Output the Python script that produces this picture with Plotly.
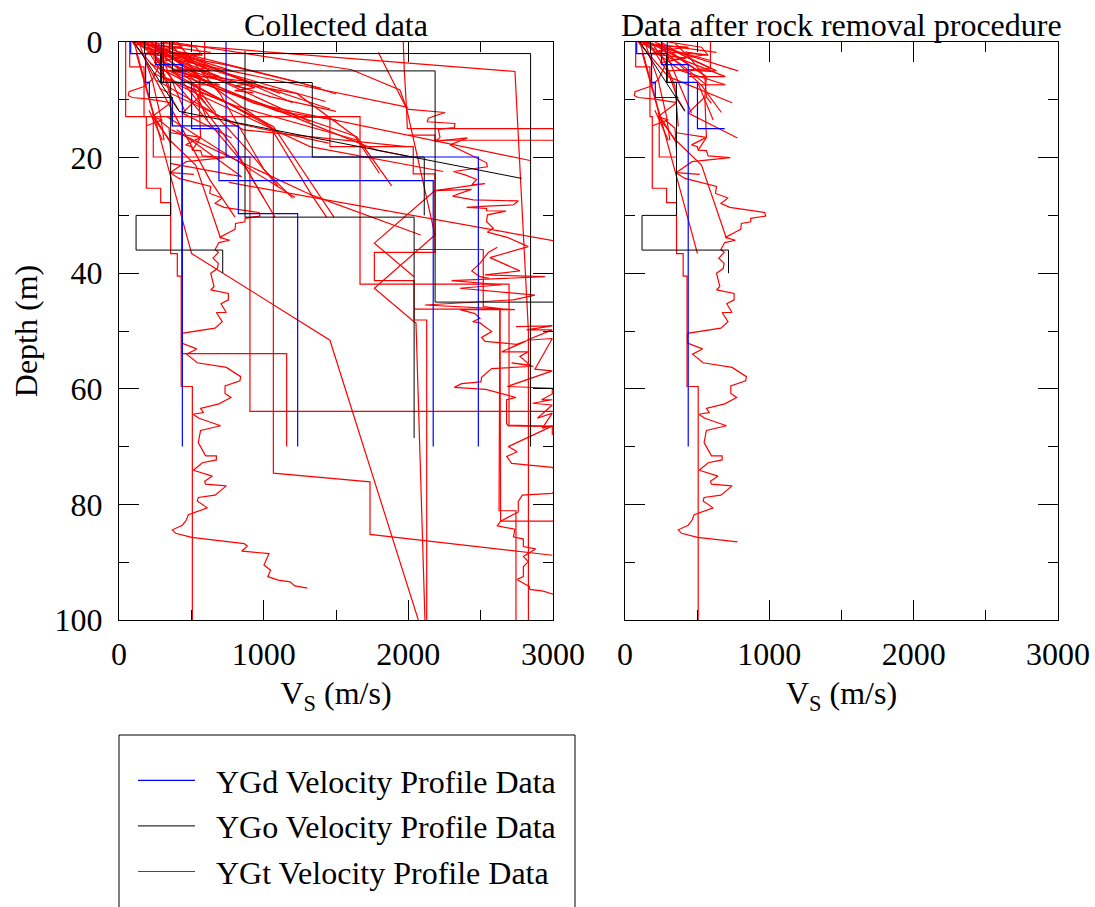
import plotly.graph_objects as go

# ---------- YGd (blue) ----------
gd1_vs = [81, 81, 184, 184, 210, 210, 369, 369, 825, 825, 1235, 1235]
gd1_depth = [0, 2, 2, 7, 7, 9.6, 9.6, 14.5, 14.5, 29.7, 29.7, 70]
gd2_vs = [253, 253, 438, 438]
gd2_depth = [0, 3.9, 3.9, 70]
gd3_vs = [293, 293, 502, 502, 691, 691, 2172, 2172]
gd3_depth = [0, 7, 7, 15, 15, 24, 24, 70]
gd4_vs = [740, 740, 2484, 2484]
gd4_depth = [0, 19.9, 19.9, 70]

# ---------- YGo (black) ----------
go1_vs = [370, 370, 2185, 2185, 3050]
go1_depth = [0, 5, 5, 45, 45]
go2_vs = [350, 350, 2845, 2845]
go2_depth = [0, 2, 2, 70]
go3_vs = [306, 306, 1336, 1336, 2110, 2110]
go3_depth = [0, 7, 7, 19.9, 19.9, 30]
go4_vs = [871, 871, 2040, 2040]
go4_depth = [1.5, 30.3, 30.3, 68.5]
go5_vs = [177, 177, 288, 288, 357, 357, 118, 118, 717, 717]
go5_depth = [0, 2, 2, 7, 7, 30, 30, 36, 36, 40]
go6_vs = [104, 415, 2783]
go6_depth = [0, 12, 23.6]

# ---------- YGt (red), long bumpy profiles ----------
gt_a_vs = [357, 564, 461, 502, 507, 564, 576, 730, 465, 419, 353, 415, 576, 634, 627, 714, 664, 726, 968, 975, 871,
           871, 806, 802, 772, 696, 765, 691, 664, 687, 650, 687, 680, 634, 657, 634, 756, 756, 705, 742, 673, 714,
           664, 433, 433, 537, 468, 541, 742, 841, 836, 733, 733, 774, 691, 564, 583, 511, 553, 703, 564, 548, 599,
           673, 673, 576, 514, 645, 592, 599, 742, 664, 548, 541, 611, 479, 465, 438, 369, 392, 502, 779,
           866, 887, 848, 1037, 1002, 1048, 1028, 1101, 1182, 1216, 1302]
gt_a_depth = [15.7, 16.5, 17.8, 18.1, 18.7, 18.8, 19.7, 20.0, 20.7, 21.5, 22.6, 23.6, 24.6, 25.0, 26.2, 27.0, 27.9,
              28.6, 29.5, 30.1, 30.5, 31.1, 31.4, 32.4, 32.8, 33.8, 34.3, 34.7, 35.9, 36.4, 37.4, 38.3, 39.2, 40.0,
              42.3, 42.9, 43.5, 44.6, 45.3, 46.8, 46.8, 48.4, 49.5, 50.4, 52.1, 53.1, 54.0, 55.5, 56.3, 57.9, 58.6,
              59.5, 60.8, 61.5, 62.6, 63.4, 64.1, 64.4, 65.1, 66.4, 67.2, 69.3, 71.6, 71.6, 72.3, 72.8, 74.1, 75.1,
              76.0, 76.5, 76.8, 78.4, 78.8, 79.4, 80.6, 81.8, 82.7, 83.6, 84.4, 85.0, 85.7, 86.5,
              86.8, 87.2, 88.1, 88.5, 90.5, 91.4, 92.5, 93.1, 93.4, 94.1, 94.5]

gt_b_vs = [1988, 2253, 2138, 2131, 2322, 2318, 2207, 2219, 2184, 2408, 2288, 2408, 2541, 2546, 2438, 2311, 2392, 2472,
           2438, 2530, 2184, 2437, 2306, 2449, 2760, 2725, 2541, 2403, 2541, 2541, 2675, 2546, 2541, 2587, 2546, 2684,
           2829, 2564, 2771, 2530, 2944, 2299, 2645, 2357, 2875, 2725, 2115, 2737, 2357, 2460, 2495, 2444, 2495, 2576,
           2506, 2530, 2748, 2817, 2645, 2829, 2771, 2841, 2714, 2864, 2576, 2506, 2502, 2368, 2318, 2536, 2744, 2679,
           2679, 2691, 2990, 2691, 2753, 2680, 2714, 2995, 3100, 2995, 2788, 2760, 2760, 2638, 2615, 2737, 2726, 2795,
           2795, 2880, 2795, 2829, 2795, 2795, 2749, 2836, 2841, 2933, 2995, 3100]
gt_b_depth = [11.6, 12.2, 13.2, 13.8, 14.1, 14.8, 15.1, 16.5, 17.2, 16.6, 17.8, 19.3, 20.9, 21.6, 22.0, 22.4, 23.0, 23.8,
              24.7, 24.5, 25.7, 25.5, 26.65, 27.3, 27.5, 28.2, 28.4, 28.6, 28.8, 29.2, 29.25, 29.9, 31.1, 32.2, 32.9, 33.8,
              35.4, 37.3, 39.6, 40.3, 40.6, 41.3, 42.0, 42.6, 43.8, 44.6, 45.5, 46.3, 46.3, 47.0, 47.8, 48.4, 48.6, 50.1,
              51.1, 51.8, 52.3, 51.7, 53.6, 53.6, 54.4, 55.9, 55.5, 56.1, 56.5, 58.0, 58.8, 59.1, 59.75, 60.1, 61.5, 61.9,
              66.0, 66.4, 66.5, 70.0, 70.9, 71.7, 72.9, 73.6, 75.5, 78.1, 78.4, 79.5, 81.3, 82.9, 83.7, 84.3, 85.6, 86.0,
              87.3, 87.7, 89.0, 89.9, 90.8, 92.5, 93.0, 94.2, 94.7, 95.0, 95.5, 96.0]

gt_c_vs = [2615, 2553, 2495, 2438, 2495, 2560]
gt_c_depth = [35.5, 36.4, 38.3, 39.6, 40.6, 40.9]
gt_e_vs = [2744, 2995, 2818, 2995, 2818, 2995, 2875, 2995, 2684, 2995, 2995, 2921, 2995, 2859, 2995, 2892, 2995, 2926, 2995, 2995]
gt_e_depth = [49.25, 49.1, 49.8, 49.8, 51.6, 51.3, 56.6, 56.9, 59.6, 59.9, 60.9, 61.9, 61.9, 62.5, 62.8, 65.1, 64.2, 66.8, 66.4, 68.0]

# ---------- YGt (red), stepped profiles ----------
gt_s1_vs = [74, 74, 173, 173, 189, 189, 288, 288, 357, 357, 403, 403, 430, 430, 507, 507]
gt_s1_depth = [0, 4.3, 4.3, 12.9, 12.9, 25.3, 25.3, 27.8, 27.8, 36.6, 36.6, 40.5, 40.5, 59.6, 59.6, 100]
gt_s2_vs = [120, 237, 237, 357, 905, 905, 3000]
gt_s2_depth = [2, 12.5, 19.9, 19.9, 19.9, 63.9, 63.9]
gt_s3_vs = [350, 1067, 1067, 1735, 1735, 2995]
gt_s3_depth = [5, 15, 74.6, 76.1, 85.2, 88.8]
gt_s4_vs = [46, 46, 1666, 1666, 2696, 2696, 3000]
gt_s4_depth = [0, 12.9, 12.9, 41.9, 41.9, 66.3, 66.5]
gt_s5_vs = [1965, 1972, 1988, 1993, 3050]
gt_s5_depth = [0, 4.9, 11.8, 15, 15]
gt_s6_vs = [2000, 2184, 2184, 3050]
gt_s6_depth = [16.1, 16.1, 17, 17]
gt_s7_vs = [1793, 1988, 2184, 1765, 2039, 2053, 2115]
gt_s7_depth = [1.8, 11.5, 33.4, 42.6, 48.4, 48.6, 100]
gt_s8_vs = [1200, 1458, 1458, 2034, 2034, 2184, 2184, 1765, 1765, 2039, 2039, 2127, 2127]
gt_s8_depth = [13, 13, 18.1, 18.1, 22.8, 22.8, 36.4, 36.4, 41.3, 41.3, 48.1, 48.1, 100]
gt_s9_vs = [2039, 2518, 2518, 2633, 2627, 2744, 2744]
gt_s9_depth = [35.9, 35.9, 45.8, 46.1, 81.1, 81.1, 100]
gt_s10_vs = [2039, 2633, 2638, 3000]
gt_s10_depth = [46.2, 46.2, 82.9, 82.9]
gt_s11_vs = [433, 433, 1159, 1159]
gt_s11_depth = [15, 53.9, 53.9, 70]
gt_s12_vs = [592, 592, 300]
gt_s12_depth = [0, 4.6, 5]
gt_s13_vs = [168, 2737, 2830, 2830]
gt_s13_depth = [0, 5.1, 50, 100]
gt_x1_vs = [2184, 1765, 2039]
gt_x1_depth = [25.7, 34.8, 40.6]
gt_l1_vs = [104, 502, 1458, 2069]
gt_l1_depth = [0, 36.6, 51.6, 100]

# ---------- YGt (red), shallow lines present in both panels ----------
gt_r1_vs = [92, 634]
gt_r1_depth = [0, 1.8]
gt_r2_vs = [115, 594]
gt_r2_depth = [0, 3.2]
gt_r3_vs = [140, 783]
gt_r3_depth = [0, 5.0]
gt_r4_vs = [207, 634]
gt_r4_depth = [0, 5.0]
gt_r5_vs = [161, 392, 696]
gt_r5_depth = [0, 3, 6.0]
gt_r6_vs = [115, 392, 696]
gt_r6_depth = [0, 5, 7.4]
gt_r7_vs = [92, 300, 742]
gt_r7_depth = [0, 6, 10.5]
gt_r8_vs = [253, 530, 668]
gt_r8_depth = [1, 7.5, 12.2]
gt_r9_vs = [322, 564, 553, 438, 779]
gt_r9_depth = [2, 6, 9.5, 12.3, 16.6]
gt_r10_vs = [253, 460]
gt_r10_depth = [0, 12.3]
gt_r11_vs = [230, 357]
gt_r11_depth = [12.3, 17.5]
gt_r12_vs = [369, 599, 622]
gt_r12_depth = [4.8, 5.1, 4.8]
gt_r13_vs = [438, 691]
gt_r13_depth = [6, 6]
gt_r14_vs = [518, 691]
gt_r14_depth = [7.4, 7.4]
gt_r15_vs = [300, 230, 173, 69, 65, 92, 207, 357, 230, 300, 190]
gt_r15_depth = [3, 6.5, 7.7, 8.6, 9.3, 9.6, 9.9, 10.5, 12.9, 13.5, 14.5]
gt_r16_vs = [230, 352, 530, 703]
gt_r16_depth = [12.9, 17, 21.3, 34]
gt_r17_vs = [357, 518]
gt_r17_depth = [22.6, 22.9]
gt_r18_vs = [553, 564, 507]
gt_r18_depth = [9.5, 16.5, 18.7]
gt_r19_vs = [140, 300, 180, 420, 240]
gt_r19_depth = [0, 1.2, 2, 2.8, 3.6]
gt_r20_vs = [100, 440, 210, 560, 320]
gt_r20_depth = [0.4, 0.9, 1.6, 2.2, 3.1]
gt_r21_vs = [115, 380, 553]
gt_r21_depth = [0, 3.7, 7.2]
gt_r22_vs = [161, 300, 369, 415]
gt_r22_depth = [0, 5.4, 10, 11.9]
gt_r23_vs = [230, 495, 622]
gt_r23_depth = [0.2, 4.8, 5.1]
gt_r24_vs = [346, 461, 553, 564, 599]
gt_r24_depth = [0.2, 3.1, 6, 9.5, 10.6]
gt_r25_vs = [253, 415, 599]
gt_r25_depth = [0.1, 2.5, 4.6]
gt_r26_vs = [184, 276, 346, 369]
gt_r26_depth = [0.1, 3.4, 7.7, 14.6]
gt_r27_vs = [138, 230, 288, 311]
gt_r27_depth = [0.1, 6.6, 12.9, 17]
gt_r28_vs = [207, 300]
gt_r28_depth = [11.8, 17]
gt_r29_vs = [300, 530, 576, 415]
gt_r29_depth = [0, 0.9, 2.3, 1.7]
gt_r30_vs = [507, 576, 611]
gt_r30_depth = [7.2, 11.2, 13.5]
gt_r31_vs = [276, 346, 357]
gt_r31_depth = [13.5, 14.9, 18.7]

# ---------- YGt (red), lines in the collected data only ----------
gt_f1_vs = [168, 1113]
gt_f1_depth = [0, 8.9]
gt_f2_vs = [145, 744, 1428]
gt_f2_depth = [0, 5.4, 10.3]
gt_f3_vs = [191, 1320]
gt_f3_depth = [0.8, 13.8]
gt_f4_vs = [306, 1228, 1631, 1799]
gt_f4_depth = [4.8, 8.9, 16.3, 22.7]
gt_f5_vs = [353, 1608, 1942, 1988]
gt_f5_depth = [0, 4.8, 8.3, 11.5]
gt_f6_vs = [399, 929, 2841]
gt_f6_depth = [4.3, 10.6, 20.5]
gt_f7_vs = [283, 1044, 1332, 1435]
gt_f7_depth = [1.4, 14.6, 26.5, 30.3]
gt_f8_vs = [364, 1332, 2085]
gt_f8_depth = [15.2, 26.5, 33.4]
gt_f9_vs = [514, 1643, 1885]
gt_f9_depth = [6.6, 16.4, 24.9]
gt_f10_vs = [237, 1320, 2242]
gt_f10_depth = [5.4, 18.1, 22.4]
gt_f11_vs = [214, 1067, 1486]
gt_f11_depth = [3.7, 14.6, 30.3]
gt_f12_vs = [399, 841]
gt_f12_depth = [15.2, 23.2]
gt_f13_vs = [329, 1217]
gt_f13_depth = [12.9, 26.9]
gt_f14_vs = [237, 859, 1078]
gt_f14_depth = [2.5, 21, 30.3]
gt_f15_vs = [191, 629, 802]
gt_f15_depth = [3.7, 23.9, 30.3]
gt_f16_vs = [760, 2995, 3050]
gt_f16_depth = [24.3, 34.3, 34.6]
gt_f17_vs = [260, 859, 1988]
gt_f17_depth = [6.6, 15.2, 18.1]
gt_f18_vs = [283, 1781, 2023]
gt_f18_depth = [3.7, 18.7, 19.9]
gt_f19_vs = [399, 1999]
gt_f19_depth = [3.1, 11.3]
gt_f20_vs = [168, 1458]
gt_f20_depth = [0.8, 11.6]
gt_f21_vs = [353, 849]
gt_f21_depth = [21, 23.3]
gt_f22_vs = [420, 940, 800, 930]
gt_f22_depth = [4, 7.9, 8.4, 8.8]
gt_f23_vs = [300, 1200]
gt_f23_depth = [0.5, 10.5]
gt_f24_vs = [250, 1050, 1500]
gt_f24_depth = [3, 9.5, 12]
gt_f25_vs = [350, 1100, 1500]
gt_f25_depth = [5, 12, 13.5]
gt_f26_vs = [300, 800, 1650]
gt_f26_depth = [6, 11, 17]
gt_f27_vs = [280, 800, 1450]
gt_f27_depth = [8, 14, 17.5]
gt_f28_vs = [400, 700, 1000, 1200]
gt_f28_depth = [0, 9, 22, 27]
gt_f29_vs = [500, 900, 1100]
gt_f29_depth = [8, 19, 25]
gt_f30_vs = [350, 800, 1000]
gt_f30_depth = [4, 18.5, 27]
gt_f31_vs = [450, 1250, 1500]
gt_f31_depth = [2, 7, 9]
gt_f32_vs = [300, 750, 1400]
gt_f32_depth = [2, 4, 8]
gt_f33_vs = [600, 950, 800, 900]
gt_f33_depth = [6, 7, 7.6, 8.2]

# (group, vs, depth, number of leading points that stay after rock removal)
YGD, YGO, YGT = "YGd Velocity Profile Data", "YGo Velocity Profile Data", "YGt Velocity Profile Data"
profiles = [
    (YGT, gt_a_vs, gt_a_depth, 82), (YGT, gt_b_vs, gt_b_depth, 0), (YGT, gt_c_vs, gt_c_depth, 0),
    (YGT, gt_e_vs, gt_e_depth, 0), (YGT, gt_s1_vs, gt_s1_depth, 16), (YGT, gt_s2_vs, gt_s2_depth, 4),
    (YGT, gt_s3_vs, gt_s3_depth, 0), (YGT, gt_s4_vs, gt_s4_depth, 0), (YGT, gt_s5_vs, gt_s5_depth, 0),
    (YGT, gt_s6_vs, gt_s6_depth, 0), (YGT, gt_s7_vs, gt_s7_depth, 0), (YGT, gt_s8_vs, gt_s8_depth, 0),
    (YGT, gt_s9_vs, gt_s9_depth, 0), (YGT, gt_s10_vs, gt_s10_depth, 0), (YGT, gt_s11_vs, gt_s11_depth, 0),
    (YGT, gt_s12_vs, gt_s12_depth, 3), (YGT, gt_s13_vs, gt_s13_depth, 0), (YGT, gt_x1_vs, gt_x1_depth, 0),
    (YGT, gt_l1_vs, gt_l1_depth, 2),
    (YGT, gt_r1_vs, gt_r1_depth, 2), (YGT, gt_r2_vs, gt_r2_depth, 2), (YGT, gt_r3_vs, gt_r3_depth, 2),
    (YGT, gt_r4_vs, gt_r4_depth, 2), (YGT, gt_r5_vs, gt_r5_depth, 3), (YGT, gt_r6_vs, gt_r6_depth, 3),
    (YGT, gt_r7_vs, gt_r7_depth, 3), (YGT, gt_r8_vs, gt_r8_depth, 3), (YGT, gt_r9_vs, gt_r9_depth, 5),
    (YGT, gt_r10_vs, gt_r10_depth, 2), (YGT, gt_r11_vs, gt_r11_depth, 2), (YGT, gt_r12_vs, gt_r12_depth, 3),
    (YGT, gt_r13_vs, gt_r13_depth, 2), (YGT, gt_r14_vs, gt_r14_depth, 2), (YGT, gt_r15_vs, gt_r15_depth, 11),
    (YGT, gt_r16_vs, gt_r16_depth, 4), (YGT, gt_r17_vs, gt_r17_depth, 2), (YGT, gt_r18_vs, gt_r18_depth, 3),
    (YGT, gt_r19_vs, gt_r19_depth, 5), (YGT, gt_r20_vs, gt_r20_depth, 5), (YGT, gt_r21_vs, gt_r21_depth, 3),
    (YGT, gt_r22_vs, gt_r22_depth, 4), (YGT, gt_r23_vs, gt_r23_depth, 3), (YGT, gt_r24_vs, gt_r24_depth, 5),
    (YGT, gt_r25_vs, gt_r25_depth, 3), (YGT, gt_r26_vs, gt_r26_depth, 4), (YGT, gt_r27_vs, gt_r27_depth, 4),
    (YGT, gt_r28_vs, gt_r28_depth, 2), (YGT, gt_r29_vs, gt_r29_depth, 4), (YGT, gt_r30_vs, gt_r30_depth, 3),
    (YGT, gt_r31_vs, gt_r31_depth, 3),
    (YGT, gt_f1_vs, gt_f1_depth, 0), (YGT, gt_f2_vs, gt_f2_depth, 0), (YGT, gt_f3_vs, gt_f3_depth, 0),
    (YGT, gt_f4_vs, gt_f4_depth, 0), (YGT, gt_f5_vs, gt_f5_depth, 0), (YGT, gt_f6_vs, gt_f6_depth, 0),
    (YGT, gt_f7_vs, gt_f7_depth, 0), (YGT, gt_f8_vs, gt_f8_depth, 0), (YGT, gt_f9_vs, gt_f9_depth, 0),
    (YGT, gt_f10_vs, gt_f10_depth, 0), (YGT, gt_f11_vs, gt_f11_depth, 0), (YGT, gt_f12_vs, gt_f12_depth, 0),
    (YGT, gt_f13_vs, gt_f13_depth, 0), (YGT, gt_f14_vs, gt_f14_depth, 0), (YGT, gt_f15_vs, gt_f15_depth, 0),
    (YGT, gt_f16_vs, gt_f16_depth, 0), (YGT, gt_f17_vs, gt_f17_depth, 0), (YGT, gt_f18_vs, gt_f18_depth, 0),
    (YGT, gt_f19_vs, gt_f19_depth, 0), (YGT, gt_f20_vs, gt_f20_depth, 0), (YGT, gt_f21_vs, gt_f21_depth, 0),
    (YGT, gt_f22_vs, gt_f22_depth, 0), (YGT, gt_f23_vs, gt_f23_depth, 0), (YGT, gt_f24_vs, gt_f24_depth, 0),
    (YGT, gt_f25_vs, gt_f25_depth, 0), (YGT, gt_f26_vs, gt_f26_depth, 0), (YGT, gt_f27_vs, gt_f27_depth, 0),
    (YGT, gt_f28_vs, gt_f28_depth, 0), (YGT, gt_f29_vs, gt_f29_depth, 0), (YGT, gt_f30_vs, gt_f30_depth, 0),
    (YGT, gt_f31_vs, gt_f31_depth, 0), (YGT, gt_f32_vs, gt_f32_depth, 0), (YGT, gt_f33_vs, gt_f33_depth, 0),
    (YGD, gd1_vs, gd1_depth, 7), (YGD, gd2_vs, gd2_depth, 4), (YGD, gd3_vs, gd3_depth, 5), (YGD, gd4_vs, gd4_depth, 0),
    (YGO, go1_vs, go1_depth, 0), (YGO, go2_vs, go2_depth, 0), (YGO, go3_vs, go3_depth, 0), (YGO, go4_vs, go4_depth, 0),
    (YGO, go5_vs, go5_depth, 10), (YGO, go6_vs, go6_depth, 2),
]

COLORS = {YGD: "#0000ff", YGO: "#000000", YGT: "#ff0000"}
WIDTHS = {YGD: 1.2, YGO: 1, YGT: 1.2}
RANKS = {YGD: 1, YGO: 2, YGT: 3}
W, H = 1095.0, 907.0
FONT = "Liberation Serif"
SIZE = 32

fig = go.Figure()
seen = set()
for group, vs, depth, keep in profiles:
    show = group not in seen
    seen.add(group)
    line = dict(color=COLORS[group], width=WIDTHS[group])
    # two no-break spaces reproduce the gap between legend line and label
    fig.add_trace(go.Scatter(x=vs, y=depth, mode="lines", line=line,
                             name="\u00a0\u00a0" + group, legendgroup=group, legendrank=RANKS[group],
                             showlegend=show, hoverinfo="skip", xaxis="x", yaxis="y"))
    if keep:
        fig.add_trace(go.Scatter(x=vs[:keep], y=depth[:keep], mode="lines", line=line, name=group, legendgroup=group,
                                 showlegend=False, hoverinfo="skip", xaxis="x2", yaxis="y2"))

xcommon = dict(range=[0, 3000], dtick=1000, ticks="inside", ticklen=20, tickwidth=1, tickcolor="black",
               showline=True, linecolor="black", linewidth=1, mirror="ticks", showgrid=False, zeroline=False,
               automargin=False, ticklabelstandoff=6,
               minor=dict(dtick=500, ticks="inside", ticklen=10, tickwidth=1, tickcolor="black", showgrid=False),
               tickfont=dict(family=FONT, size=SIZE, color="black"))
ycommon = dict(range=[100, 0], dtick=20, ticks="inside", ticklen=20, tickwidth=1, tickcolor="black",
               showline=True, linecolor="black", linewidth=1, mirror="ticks", showgrid=False, zeroline=False,
               automargin=False, ticklabelstandoff=9,
               minor=dict(dtick=10, ticks="inside", ticklen=10, tickwidth=1, tickcolor="black", showgrid=False),
               tickfont=dict(family=FONT, size=SIZE, color="black"),
               domain=[1 - 620 / H, 1 - 42 / H])
xtitle = dict(text="V<sub>S</sub> (m/s)", font=dict(family=FONT, size=SIZE, color="black"), standoff=10)

fig.update_layout(
    width=1095, height=907, margin=dict(l=0, r=0, t=0, b=0, autoexpand=False), paper_bgcolor="white",
    plot_bgcolor="white", font=dict(family=FONT, color="black"),
    xaxis={**xcommon, "domain": [119 / W, 553 / W], "anchor": "y", "title": xtitle},
    xaxis2={**xcommon, "domain": [625 / W, 1058 / W], "anchor": "y2", "title": xtitle},
    yaxis={**ycommon, "anchor": "x",
           "title": dict(text="Depth (m)", font=dict(family=FONT, size=SIZE, color="black"), standoff=7)},
    yaxis2={**ycommon, "anchor": "x2", "showticklabels": False},
    legend=dict(x=133 / W, y=1 - 753 / H, xanchor="left", yanchor="top", bgcolor="rgba(0,0,0,0)",
                itemwidth=57, tracegroupgap=1, font=dict(family=FONT, size=SIZE, color="black")),
    shapes=[dict(type="rect", xref="paper", yref="paper", x0=119 / W, x1=575 / W, y0=-0.05, y1=1 - 735 / H,
                 line=dict(color="black", width=1), layer="below")],
    annotations=[
        dict(text="Collected data", xref="paper", yref="paper", x=336 / W, y=1 - 25 / H, showarrow=False,
             xanchor="center", yanchor="middle", font=dict(family=FONT, size=SIZE, color="black")),
        dict(text="Data after rock removal procedure", xref="paper", yref="paper", x=841 / W, y=1 - 25 / H,
             showarrow=False, xanchor="center", yanchor="middle", font=dict(family=FONT, size=SIZE, color="black")),
    ],
)

fig.write_html("out.html", config={"displayModeBar": False},
               post_script="document.body.style.margin='0';document.body.style.overflow='hidden';")
